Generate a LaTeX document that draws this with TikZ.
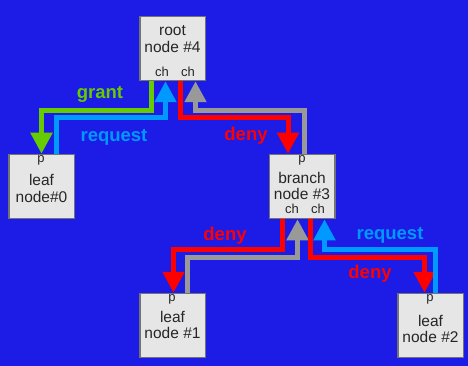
\documentclass[tikz,border=0pt]{standalone}
\usepackage{fontspec}
\setmainfont{Liberation Sans}
\usetikzlibrary{arrows.meta}
\definecolor{bg}{RGB}{28,28,230}
\definecolor{boxfill}{RGB}{230,230,230}
\definecolor{boxline}{RGB}{115,115,115}
\definecolor{cgrant}{RGB}{102,204,0}
\definecolor{creq}{RGB}{0,153,255}
\definecolor{cdeny}{RGB}{255,0,0}
\definecolor{cgray}{RGB}{153,153,153}
\begin{document}
\begin{tikzpicture}[x=1pt,y=-1pt,
 box/.style={draw=boxline, fill=boxfill, line width=1.5pt, minimum width=65.5pt, minimum height=64pt, inner sep=0pt},
 big/.style={font=\fontsize{15.5}{17}\selectfont, text=black!85, inner sep=0pt},
 small/.style={font=\fontsize{13}{14}\selectfont, text=black!85, inner sep=0pt},
 flow/.style={line width=5pt, -{Triangle[width=21pt,length=21pt]}},
 lab/.style={font=\fontsize{18.5}{20}\selectfont\bfseries, inner sep=0pt},
]
\fill[bg] (0,0) rectangle (468,366);
\useasboundingbox (0,0) rectangle (468,366);

\node[box] (root) at (172.5,48.5) {};
\node[box] (leaf0) at (41.5,186.5) {};
\node[box] (branch) at (302,186.5) {};
\node[box] (leaf1) at (172.5,325.5) {};
\node[box] (leaf2) at (430.5,325.5) {};

\node[big] (t1) at (172.5,31) {root};
\node[big] (t2) at (172.5,47) {node \#4};
\node[small] (t3) at (162,71.5) {ch};
\node[small] (t4) at (188,71.5) {ch};

\node[small] (t5) at (41,160) {p};
\node[big] (t6) at (41.5,180) {leaf};
\node[big] (t7) at (41.5,197) {node\#0};

\node[small] (t8) at (302,160) {p};
\node[big] (t9) at (302,178) {branch};
\node[big] (t10) at (302,194) {node \#3};
\node[small] (t11) at (292,209) {ch};
\node[small] (t12) at (318,209) {ch};

\node[small] (t13) at (172,299) {p};
\node[big] (t14) at (172.5,317) {leaf};
\node[big] (t15) at (172.5,333) {node \#1};

\node[small] (t16) at (430,299) {p};
\node[big] (t17) at (430.5,321) {leaf};
\node[big] (t18) at (430.5,337) {node \#2};

\draw[flow, cgrant] ([xshift=-21.5pt]root.south) |- (100,110.5) -| (leaf0.north);
\draw[flow, creq] ([xshift=14.5pt]leaf0.north) |- (100,118) -| ([xshift=-7pt]root.south);
\draw[flow, cdeny] ([xshift=8pt]root.south) |- (230,118) -| ([xshift=-14pt]branch.north);
\draw[flow, cgray] ([xshift=2.5pt]branch.north) |- (230,110.5) -| ([xshift=23pt]root.south);

\draw[flow, cdeny] ([xshift=-19.5pt]branch.south) |- (230,249.5) -| ([xshift=1pt]leaf1.north);
\draw[flow, cgray] ([xshift=14.5pt]leaf1.north) |- (230,257) -| ([xshift=-4.5pt]branch.south);
\draw[flow, cdeny] ([xshift=8.5pt]branch.south) |- (370,257) -| ([xshift=-6pt]leaf2.north);
\draw[flow, creq] ([xshift=5pt]leaf2.north) |- (370,249.5) -| ([xshift=22.5pt]branch.south);

\node[lab, text=cgrant] (l1) at (100,94) {grant};
\node[lab, text=creq] (l2) at (114,137) {request};
\node[lab, text=cdeny] (l3) at (246,136) {deny};
\node[lab, text=cdeny] (l4) at (225,236) {deny};
\node[lab, text=creq] (l5) at (390,235) {request};
\node[lab, text=cdeny] (l6) at (370,274) {deny};
\end{tikzpicture}
\end{document}
